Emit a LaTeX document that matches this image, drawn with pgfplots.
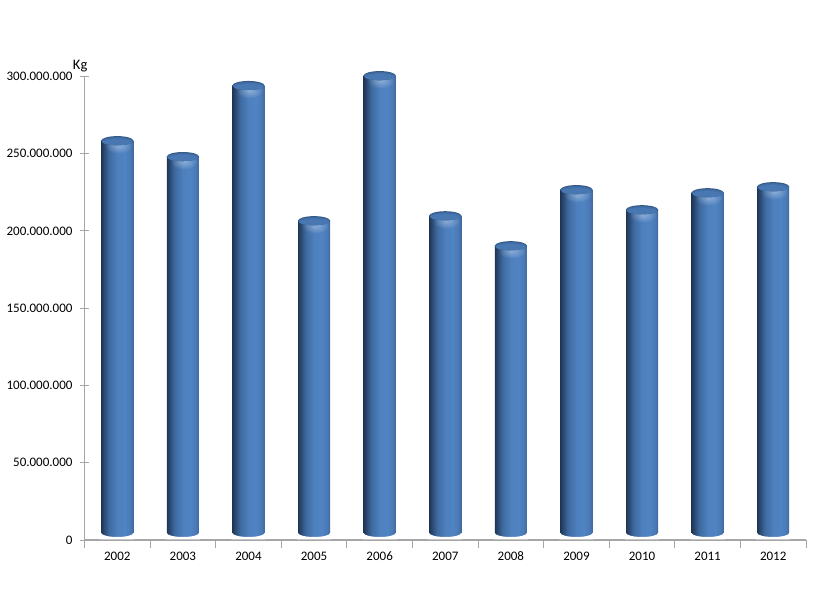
\documentclass[border=0pt]{standalone}
\usepackage{fontspec}
\setmainfont{Carlito}
\usepackage{pgfplots}
\pgfplotsset{compat=1.18}
\usepackage{pgfplotstable}
\usetikzlibrary{fadings}

\definecolor{axisgray}{HTML}{A6A6A6}
\definecolor{cylA}{HTML}{203656}
\definecolor{cylB}{HTML}{2A4870}
\definecolor{cylC}{HTML}{3E6AA0}
\definecolor{cylD}{HTML}{4E80BE}
\definecolor{cylE}{HTML}{5083C2}
\definecolor{cylF}{HTML}{4A7AB6}
\definecolor{cylG}{HTML}{406A9E}

% cylinder body, left edge at 25bp and right edge at 75bp
\pgfdeclarehorizontalshading{cyl}{100bp}{
  color(0bp)=(cylA);
  color(25bp)=(cylA);
  color(29bp)=(cylB);
  color(37bp)=(cylC);
  color(50bp)=(cylD);
  color(62bp)=(cylE);
  color(70bp)=(cylF);
  color(75bp)=(cylG);
  color(100bp)=(cylG)
}
\tikzfading[name=glow, inner color=transparent!65, outer color=transparent!100]
\pgfdeclareplotmark{cyltop}{
  \path[draw=none, fill=white, path fading=glow] (1pt,-5pt) ellipse (14pt and 8pt);
  \path[draw=none, fill=cylC!85!black] (0pt,0pt) ellipse (16pt and 4.5pt);
  \path[draw=none, fill=cylC] (0pt,-0.5pt) ellipse (15.7pt and 4pt);
  \path[draw=none, fill=cylC!70!cylD] (0pt,-1pt) ellipse (15.2pt and 3.5pt);
  \path[draw=none, fill=cylC!40!cylD] (0pt,-1.5pt) ellipse (14.5pt and 3pt);
}
% white corners that round off the foot of the bar, stopping just above the axis line
\pgfdeclareplotmark{cylfoot}{
  \path[draw=none, fill=white] (-17pt,7pt) -- (-16pt,7pt)
    arc[start angle=180, end angle=360, x radius=16pt, y radius=4pt]
    -- (17pt,7pt) -- (17pt,0.55pt) -- (-17pt,0.55pt) -- cycle;
}

\pgfplotstableread{
x year v
0 2002 258500000
1 2003 248200000
2 2004 294200000
3 2005 206700000
4 2006 300600000
5 2007 209900000
6 2008 190500000
7 2009 226800000
8 2010 213800000
9 2011 224800000
10 2012 228700000
}\tons

\begin{document}
\begin{tikzpicture}[x=1pt,y=1pt]
\path[use as bounding box] (0,0) rectangle (814,600);
\begin{axis}[
  at={(84.5pt,60pt)}, anchor=south west,
  scale only axis, width=721.5pt, height=463.5pt,
  xmin=-0.5, xmax=10.5, ymin=0, ymax=300000000,
  clip=false, axis on top,
  axis lines=left,
  axis line style={-, axisgray, line width=1.1pt},
  font=\fontsize{13}{15}\selectfont,
  xtick={0,...,10},
  xticklabels={2002,2003,2004,2005,2006,2007,2008,2009,2010,2011,2012},
  minor xtick={-0.5,0.5,...,10.5},
  ytick={0,50000000,100000000,150000000,200000000,250000000,300000000},
  scaled y ticks=false,
  yticklabel style={xshift=-4pt, /pgf/number format/fixed, /pgf/number format/1000 sep={.}, /pgf/number format/assume math mode=true},
  tick align=center,
  major tick length=9pt, minor tick length=8pt,
  tick style={axisgray, line width=1pt},
  major x tick style={draw=none},
  minor x tick style={yshift=-3.5pt},
  xticklabel style={yshift=-4pt},
]
% one plot per bar, else the shading runs across all of them
\pgfplotsinvokeforeach{0,...,10}{
  \addplot[ybar, bar width=32pt, draw=none, shade, shading=cyl, restrict x to domain=#1:#1] table[x=x, y=v] {\tons};
}
\addplot[only marks, mark=cylfoot] table[x=x, y expr=0] {\tons};
\addplot[only marks, mark=cyltop] table[x=x, y=v] {\tons};
\node[anchor=base, yshift=6.5pt, font=\fontsize{14.5}{16}\selectfont] at (axis description cs:-0.006,1.0) {Kg};
\end{axis}
\end{tikzpicture}
\end{document}
